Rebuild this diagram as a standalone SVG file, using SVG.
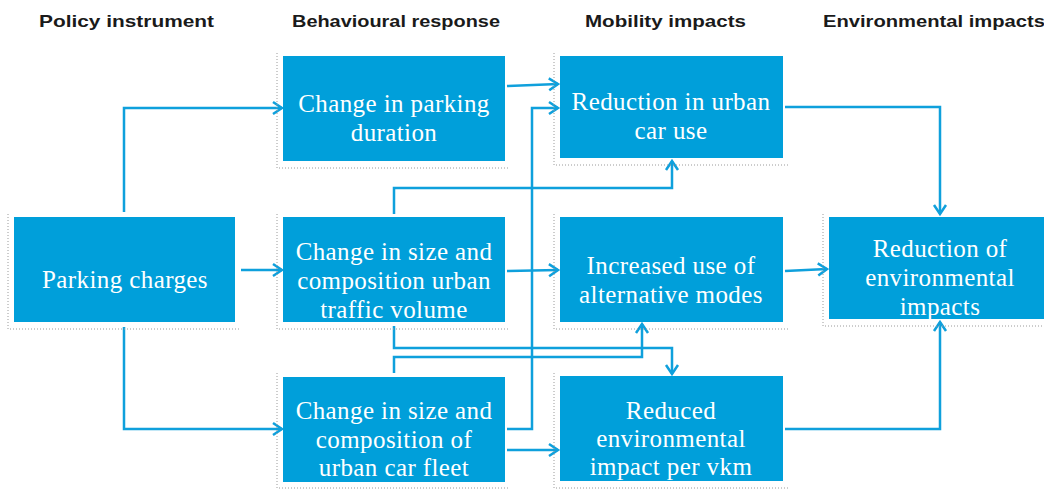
<svg xmlns="http://www.w3.org/2000/svg" width="1044" height="489" viewBox="0 0 1044 489">
<defs>
<style>
.box{fill:#009FDA;}
.shadow{fill:none;stroke:#9a9a9a;stroke-width:1;stroke-dasharray:1 2;}
.lbl{font-family:"Liberation Serif","Times New Roman",serif;font-size:25px;letter-spacing:0.4px;fill:#ffffff;text-anchor:middle;}
.hdr{font-family:"Liberation Sans",Arial,sans-serif;font-weight:bold;font-size:17px;fill:#1a1a1a;}
.con{fill:none;stroke:#0FA0DC;stroke-width:2.5;marker-end:url(#arr);}
</style>
<marker id="arr" markerUnits="userSpaceOnUse" markerWidth="16" markerHeight="16" refX="12" refY="8" orient="auto">
<path d="M3,2 L12,8 L3,14" fill="none" stroke="#0FA0DC" stroke-width="2.5"/>
</marker>
</defs>
<rect width="1044" height="489" fill="#ffffff"/>
<g id="headers">
<text class="hdr" x="39" y="27" textLength="175" lengthAdjust="spacingAndGlyphs">Policy instrument</text>
<text class="hdr" x="292" y="27" textLength="208" lengthAdjust="spacingAndGlyphs">Behavioural response</text>
<text class="hdr" x="585" y="27" textLength="161" lengthAdjust="spacingAndGlyphs">Mobility impacts</text>
<text class="hdr" x="823" y="27" textLength="222" lengthAdjust="spacingAndGlyphs">Environmental impacts</text>
</g>
<g id="connectors">
<path class="con" d="M124,212 V108 H282"/>
<path class="con" d="M124,327 V429 H282"/>
<path class="con" d="M241,270 H282"/>
<path class="con" d="M507,86 L558,84"/>
<path class="con" d="M507,429 H532 V108 H558"/>
<path class="con" d="M507,271 L558,270"/>
<path class="con" d="M507,450 H558"/>
<path class="con" d="M394,214 V188 H672 V161"/>
<path class="con" d="M394,326 V348 H672 V374"/>
<path class="con" d="M394,373 V357 H642 V324"/>
<path class="con" d="M785,107 H940 V214"/>
<path class="con" d="M785,271 L827,269"/>
<path class="con" d="M785,429 H940 V322"/>
</g>
<g id="n-parking">
<path class="shadow" d="M8,214 V329 H241"/>
<rect class="box" x="14" y="217" width="221" height="105"/>
<text class="lbl" x="125" y="288">Parking charges</text>
</g>
<g id="n-duration">
<path class="shadow" d="M277,53 V168 H510"/>
<rect class="box" x="283" y="56" width="222" height="105"/>
<text class="lbl" x="394" y="112">Change in parking</text>
<text class="lbl" x="394" y="141">duration</text>
</g>
<g id="n-traffic">
<path class="shadow" d="M277,214 V329 H510"/>
<rect class="box" x="283" y="217" width="222" height="105"/>
<text class="lbl" x="394" y="260">Change in size and</text>
<text class="lbl" x="394" y="289">composition urban</text>
<text class="lbl" x="394" y="318">traffic volume</text>
</g>
<g id="n-fleet">
<path class="shadow" d="M277,373 V488 H510"/>
<rect class="box" x="283" y="377" width="222" height="105"/>
<text class="lbl" x="394" y="419">Change in size and</text>
<text class="lbl" x="394" y="448">composition of</text>
<text class="lbl" x="394" y="476">urban car fleet</text>
</g>
<g id="n-caruse">
<path class="shadow" d="M554,53 V165 H788"/>
<rect class="box" x="560" y="56" width="223" height="102"/>
<text class="lbl" x="671" y="110">Reduction in urban</text>
<text class="lbl" x="671" y="139">car use</text>
</g>
<g id="n-altmodes">
<path class="shadow" d="M554,214 V329 H788"/>
<rect class="box" x="560" y="217" width="223" height="105"/>
<text class="lbl" x="671" y="274">Increased use of</text>
<text class="lbl" x="671" y="303">alternative modes</text>
</g>
<g id="n-vkm">
<path class="shadow" d="M554,373 V488 H788"/>
<rect class="box" x="560" y="376" width="223" height="105"/>
<text class="lbl" x="671" y="419">Reduced</text>
<text class="lbl" x="671" y="447">environmental</text>
<text class="lbl" x="671" y="475">impact per vkm</text>
</g>
<g id="n-env">
<path class="shadow" d="M823,214 V326 H1044"/>
<rect class="box" x="829" y="217" width="222" height="102"/>
<text class="lbl" x="940" y="257">Reduction of</text>
<text class="lbl" x="940" y="286">environmental</text>
<text class="lbl" x="940" y="315">impacts</text>
</g>
</svg>
